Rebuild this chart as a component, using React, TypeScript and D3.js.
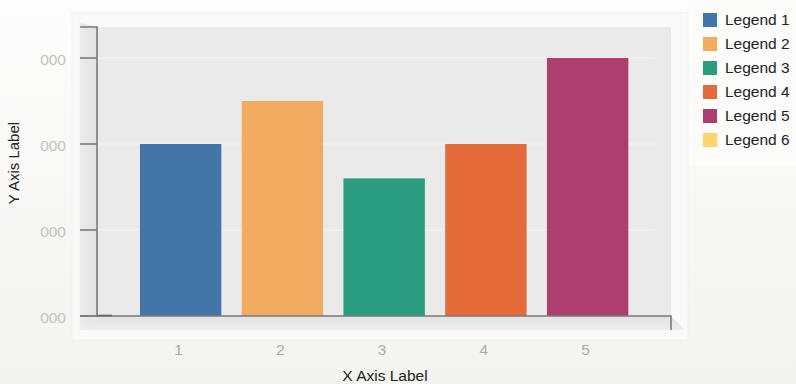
import React from "react";
import * as d3 from "d3";

const categories = ["1", "2", "3", "4", "5"];
const values = [2000, 2500, 1600, 2000, 3000];
const yTicks = [0, 1000, 2000, 3000];
const yTickLabels = ["000", "000", "000", "000"];
const legendLabels = ["Legend 1", "Legend 2", "Legend 3", "Legend 4", "Legend 5", "Legend 6"];
const colors = ["#4475a8", "#f1ac5f", "#2a9d7f", "#e56b3a", "#ac3f6f", "#fdd46c"];

const W = 796, H = 384;
const wallL = 97, wallR = 671, wallT = 27, wallB = 316;
const sideL = 80, floorB = 330;

export default function App() {
  const x = d3.scaleBand<string>().domain(categories).range([129.8, 638.5]).paddingInner(0.2).paddingOuter(0.1);
  const y = d3.scaleLinear().domain([0, 3000]).range([316, 58]);
  const font = "Arial, 'Liberation Sans', sans-serif";

  return (
    <svg width={W} height={H} style={{ position: "absolute", left: 0, top: 0 }} fontFamily={font}>
      <defs>
        <linearGradient id="bg" x1="0" y1="0" x2="0" y2="1">
          <stop offset="0" stopColor="#fdfdfd" />
          <stop offset="1" stopColor="#f3f3ef" />
        </linearGradient>
        <linearGradient id="side" x1="0" y1="0" x2="1" y2="0">
          <stop offset="0" stopColor="#ececec" />
          <stop offset="1" stopColor="#e2e2e2" />
        </linearGradient>
        <linearGradient id="floor" x1="0" y1="0" x2="0" y2="1">
          <stop offset="0" stopColor="#e2e2e2" />
          <stop offset="1" stopColor="#eeeeee" />
        </linearGradient>
      </defs>
      <rect x={0} y={0} width={W} height={H} fill="url(#bg)" />
      {/* legend panel */}
      <rect x={687} y={0} width={109} height={165} fill="#fcfcfb" />
      {/* outer frame */}
      <rect x={72} y={13} width={616} height={327} fill="#fafafa" stroke="#f0f0f0" />
      {/* left side wall */}
      <polygon points={`${sideL},${wallT - 4} ${wallL},${wallT} ${wallL},${wallB} ${sideL},${floorB}`} fill="url(#side)" />
      {/* back wall */}
      <rect x={wallL} y={wallT} width={wallR - wallL} height={wallB - wallT} fill="#eaeaea" />
      {/* floor */}
      <polygon points={`${wallL},${wallB} ${wallR},${wallB} ${685},${floorB} ${sideL},${floorB}`} fill="url(#floor)" />
      {/* gridlines */}
      {yTicks.slice(1).map((t) => (
        <line key={t} x1={wallL} x2={655} y1={y(t)} y2={y(t)} stroke="#f6f6f6" strokeWidth={1} />
      ))}
      {/* bars */}
      {values.map((v, i) => (
        <rect key={i} x={x(categories[i])} y={y(v)} width={x.bandwidth()} height={y(0) - y(v)} fill={colors[i]} />
      ))}
      {/* axes */}
      <g stroke="#7a7a7a" strokeWidth={1.6} fill="none">
        <polyline points={`${sideL},${wallT} ${wallL},${wallT} ${wallL},${wallB}`} />
        {yTicks.map((t) => (
          <line key={t} x1={sideL} x2={wallL} y1={y(t)} y2={y(t)} />
        ))}
        <polyline points={`${sideL},${wallB} ${wallR},${wallB} ${wallR},${floorB}`} />
        <line x1={wallL} x2={112} y1={wallB - 0.5} y2={wallB - 0.5} stroke="#666" />
      </g>
      {/* y tick labels */}
      {yTicks.map((t, i) => (
        <text key={t} x={66} y={y(t) + 2} dy="0.35em" textAnchor="end" fontSize={15.5} fill="#c2c2c2">
          {yTickLabels[i]}
        </text>
      ))}
      {/* x tick labels */}
      {categories.map((c) => (
        <text key={c} x={(x(c) as number) + x.bandwidth() / 2 - 2} y={350} dy="0.35em" textAnchor="middle" fontSize={15.5} fill="#aaaaaa">
          {c}
        </text>
      ))}
      <text x={385} y={376} dy="0.35em" textAnchor="middle" fontSize={15.5} fill="#222">X Axis Label</text>
      <text transform={`translate(14,163) rotate(-90)`} dy="0.35em" textAnchor="middle" fontSize={15} fill="#222">Y Axis Label</text>
      {/* legend */}
      {legendLabels.map((l, i) => (
        <g key={l} transform={`translate(703,${20 + i * 24})`}>
          <rect x={0} y={-7} width={14} height={14} fill={colors[i]} />
          <text x={22} y={0} dy="0.35em" fontSize={15.5} fill="#222">{l}</text>
        </g>
      ))}
    </svg>
  );
}
